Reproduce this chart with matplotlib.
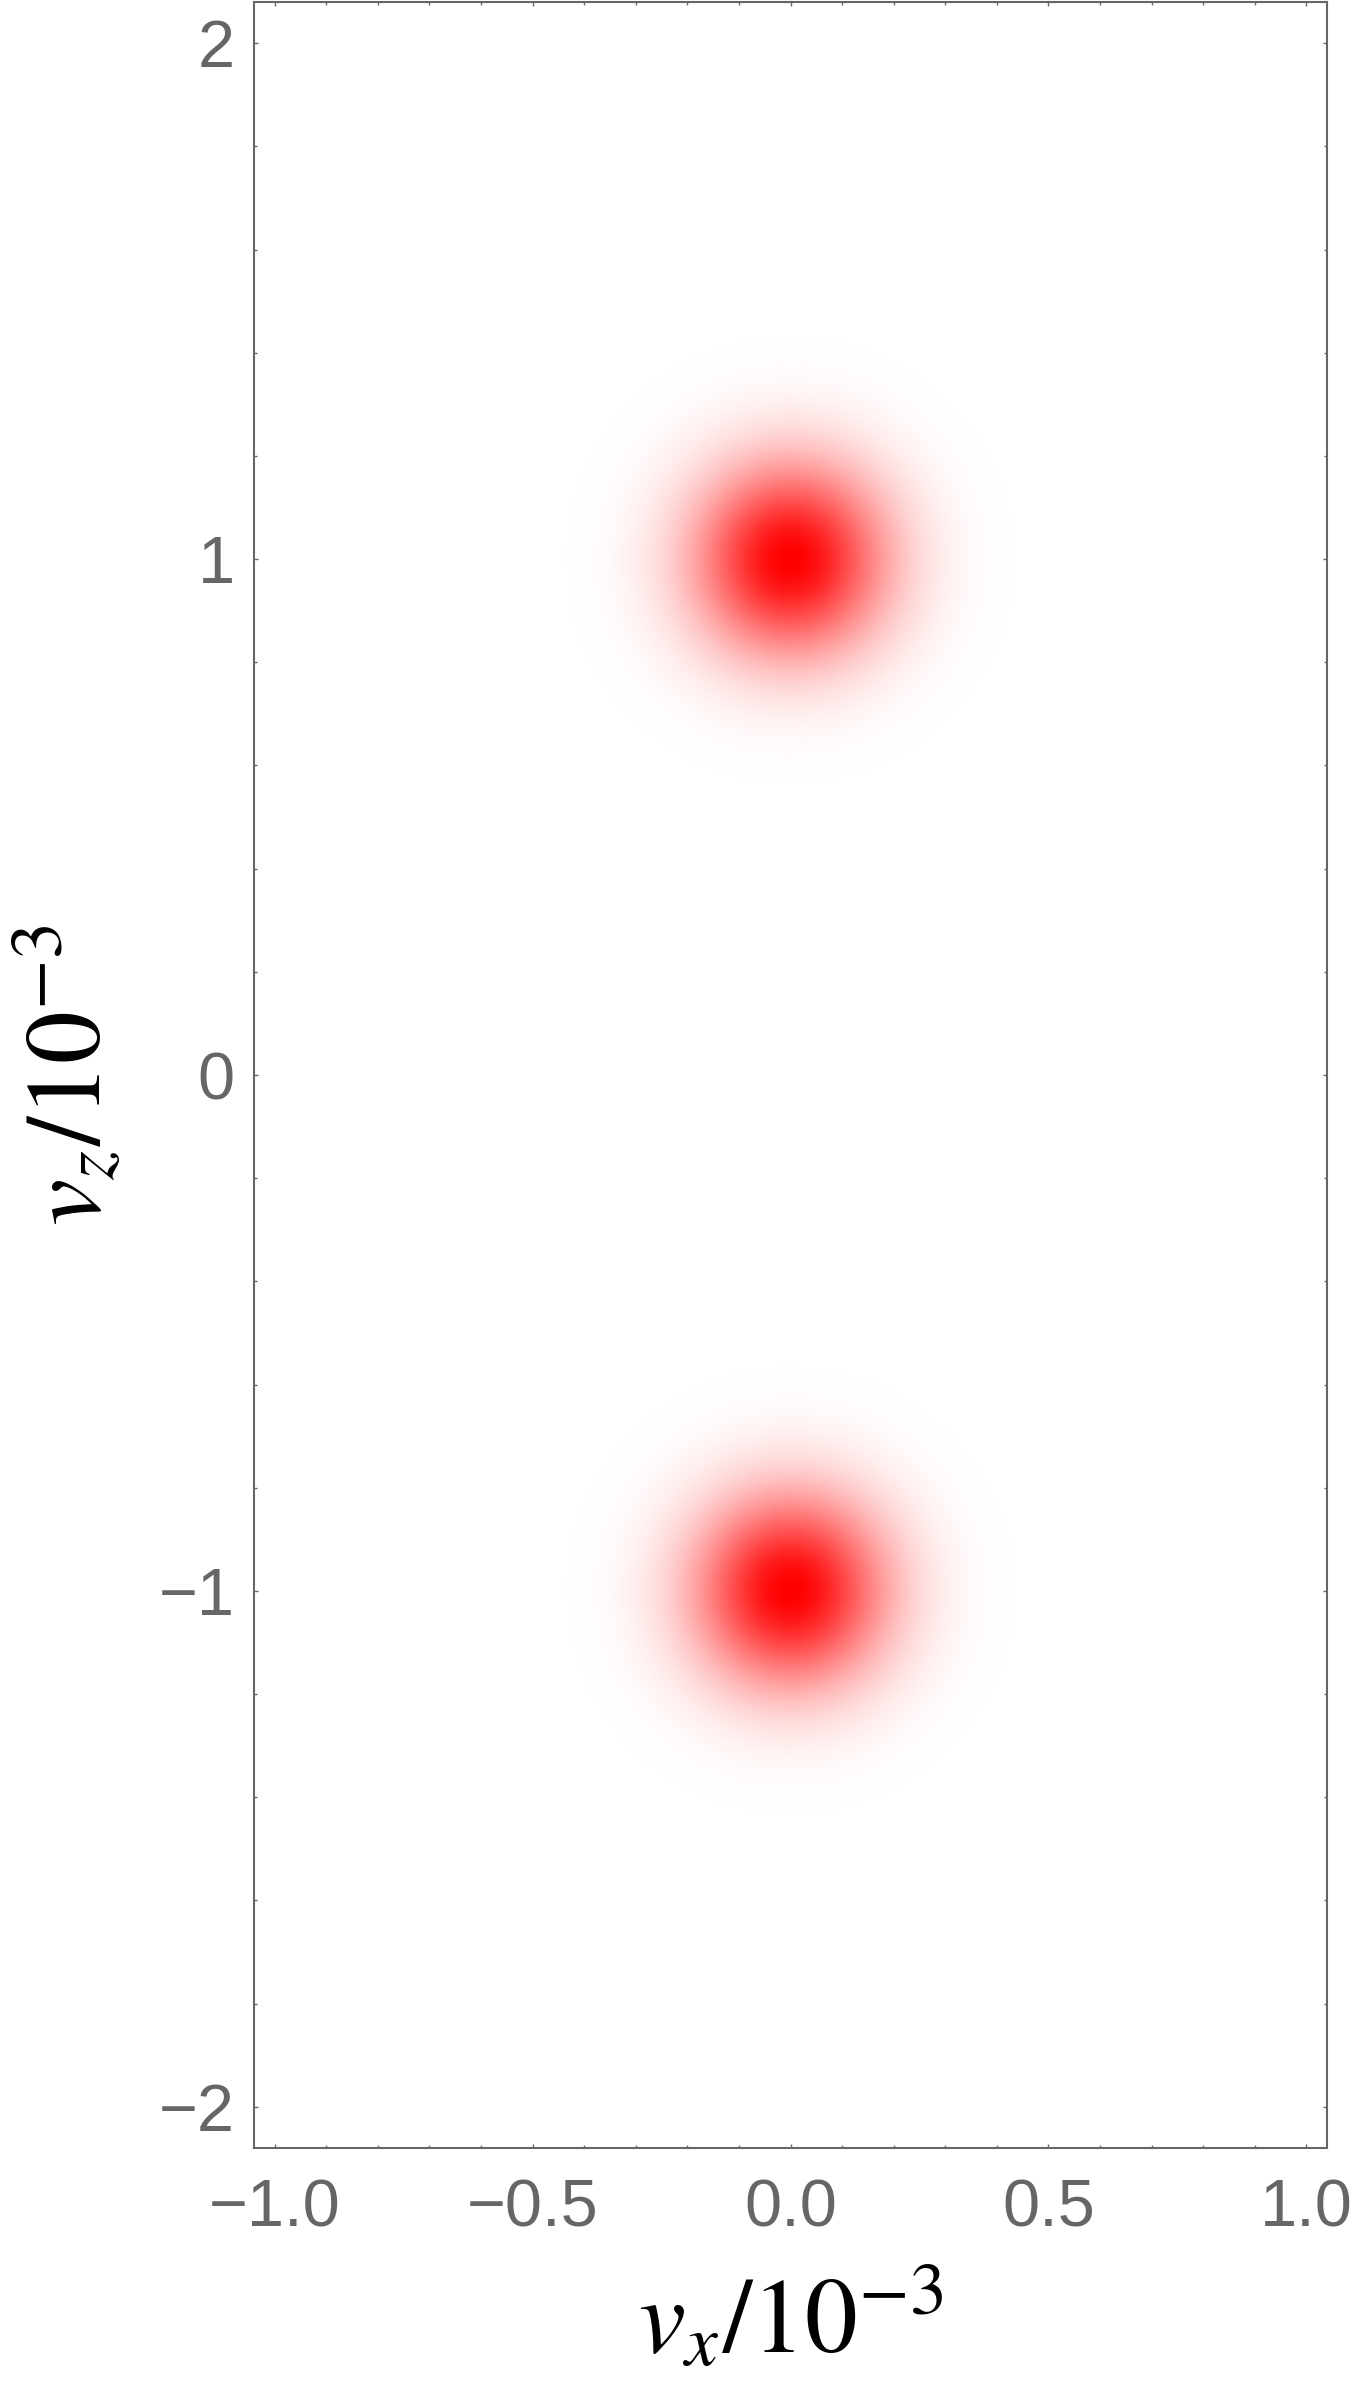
import numpy as np
import matplotlib
matplotlib.use("Agg")
import matplotlib.pyplot as plt
from matplotlib.colors import LinearSegmentedColormap
from matplotlib.ticker import MultipleLocator, FuncFormatter

'''Spot parameters (units of 1e-3)'''
spot_vx = [0.0, 0.0]
spot_vz = [1.0, -1.0]
spot_sigma = [0.13, 0.13]

x_range = [-1.0, 1.0]
z_range = [-2.0, 2.0]
x_ticks = [-1.0, -0.5, 0.0, 0.5, 1.0]
z_ticks = [-2, -1, 0, 1, 2]

grey = "#666666"

plt.rcParams['mathtext.fontset'] = 'stix'
plt.rcParams['font.family'] = ['Liberation Sans', 'DejaVu Sans']

fig = plt.figure(figsize=(13.53, 24), dpi=100)
ax = fig.add_axes([254/1353, 1 - 2148/2400, (1327 - 254)/1353, (2148 - 2)/2400])

# density on a fine grid
pad_x = 0.02 * (x_range[1] - x_range[0])
pad_z = 0.02 * (z_range[1] - z_range[0])
xs = np.linspace(x_range[0] - pad_x, x_range[1] + pad_x, 600)
zs = np.linspace(z_range[0] - pad_z, z_range[1] + pad_z, 1200)
X, Z = np.meshgrid(xs, zs)
dens = np.zeros_like(X)
for cx, cz, s in zip(spot_vx, spot_vz, spot_sigma):
    dens += np.exp(-((X - cx)**2 + (Z - cz)**2) / (2*s**2))

cmap = LinearSegmentedColormap.from_list("wr", ["#ffffff", "#ff0000"])
ax.imshow(dens, cmap=cmap, vmin=0, vmax=1, origin='lower', interpolation='bilinear',
          extent=[xs[0], xs[-1], zs[0], zs[-1]], aspect='auto')

ax.set_xlim(xs[0], xs[-1])
ax.set_ylim(zs[0], zs[-1])

def fmt_x(v, pos):
    return f"{v:.1f}".replace("-", "\u2212")

def fmt_z(v, pos):
    return f"{v:.0f}".replace("-", "\u2212")

ax.set_xticks(x_ticks)
ax.set_yticks(z_ticks)
ax.xaxis.set_major_formatter(FuncFormatter(fmt_x))
ax.yaxis.set_major_formatter(FuncFormatter(fmt_z))
ax.xaxis.set_minor_locator(MultipleLocator(0.1))
ax.yaxis.set_minor_locator(MultipleLocator(0.2))

for sp in ax.spines.values():
    sp.set_color(grey)
    sp.set_linewidth(1.5)

ax.tick_params(which='both', direction='in', top=True, right=True, color=grey,
               labelcolor=grey, labelsize=48, width=1.0)
ax.tick_params(which='major', length=3.2)
ax.tick_params(which='minor', length=2.0)
ax.tick_params(axis='x', pad=22)
ax.tick_params(axis='y', pad=14)

ax.set_xlabel(r'$v_x/10^{-3}$', fontsize=76, color='black', labelpad=20)
ax.set_ylabel(r'$v_z/10^{-3}$', fontsize=76, color='black', labelpad=26)

fig.savefig("out.png", dpi=100)
